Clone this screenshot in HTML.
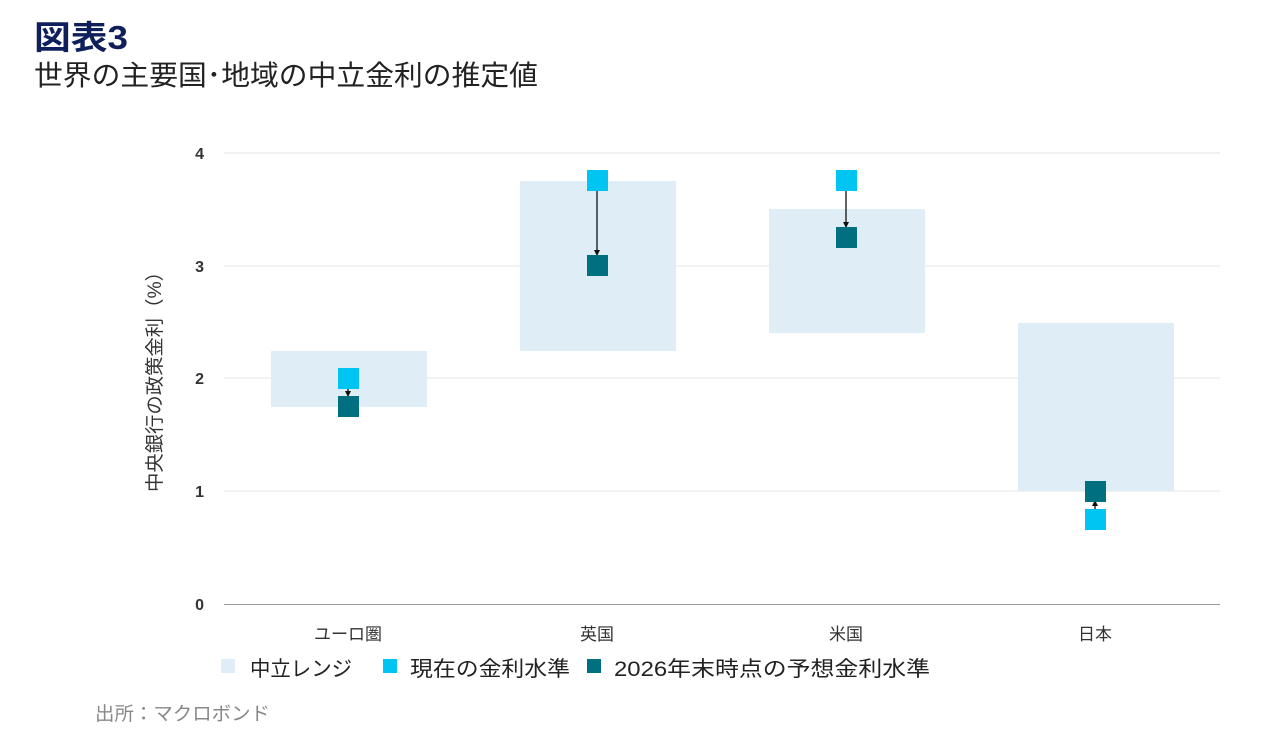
<!DOCTYPE html>
<html><head><meta charset="utf-8"><style>
body{margin:0;background:#fff;width:1280px;height:751px;overflow:hidden}
svg text{font-family:"Liberation Sans","Noto Sans CJK JP",sans-serif}
</style></head><body>
<svg width="1280" height="751" viewBox="0 0 1280 751">
<defs><marker id="ah" markerWidth="6" markerHeight="6" refX="5" refY="3" orient="auto" markerUnits="userSpaceOnUse"><path d="M0,0 L6,3 L0,6 Z" fill="#111"/></marker></defs>
<text x="34" y="49" font-size="33" font-weight="bold" fill="#0f1f5c" textLength="94" lengthAdjust="spacingAndGlyphs">図表3</text>
<text x="34" y="85" font-size="28" fill="#222" textLength="504" lengthAdjust="spacingAndGlyphs">世界の主要国･地域の中立金利の推定値</text>
<g stroke="#e4e6e8" stroke-width="1">
<line x1="224" y1="153" x2="1220" y2="153"/><line x1="224" y1="266" x2="1220" y2="266"/>
<line x1="224" y1="378" x2="1220" y2="378"/><line x1="224" y1="491" x2="1220" y2="491"/>
</g>
<line x1="224" y1="604.5" x2="1220" y2="604.5" stroke="#999" stroke-width="1"/>
<g font-size="16" font-weight="bold" fill="#333" text-anchor="end">
<text x="204" y="159">4</text><text x="204" y="272">3</text><text x="204" y="384">2</text><text x="204" y="497">1</text><text x="204" y="610">0</text>
</g>
<text transform="translate(161,377) rotate(-90)" font-size="19" fill="#333" text-anchor="middle" textLength="230" lengthAdjust="spacingAndGlyphs">中央銀行の政策金利（%）</text>
<g fill="#dfedf6">
<rect x="271" y="351" width="156" height="56"/>
<rect x="520" y="181" width="156" height="170"/>
<rect x="769" y="209" width="156" height="124"/>
<rect x="1018" y="323" width="156" height="168"/>
</g>
<g stroke="#111" stroke-width="1.3" marker-end="url(#ah)">
<line x1="348" y1="389" x2="348" y2="396"/>
<line x1="597" y1="191" x2="597" y2="255"/>
<line x1="846" y1="191" x2="846" y2="227"/>
<line x1="1095" y1="509" x2="1095" y2="501"/>
</g>
<g fill="#00c5f2">
<rect x="338" y="368" width="21" height="21"/>
<rect x="587" y="170" width="21" height="21"/>
<rect x="836" y="170" width="21" height="21"/>
<rect x="1085" y="509" width="21" height="21"/>
</g>
<g fill="#006f7f">
<rect x="338" y="396" width="21" height="21"/>
<rect x="587" y="255" width="21" height="21"/>
<rect x="836" y="227" width="21" height="21"/>
<rect x="1085" y="481" width="21" height="21"/>
</g>
<g font-size="17" fill="#333" text-anchor="middle">
<text x="348" y="640">ユーロ圏</text><text x="597" y="640">英国</text><text x="846" y="640">米国</text><text x="1095" y="640">日本</text>
</g>
<rect x="221" y="659" width="14" height="14" fill="#dfedf6"/>
<text x="250" y="676" font-size="21" fill="#222" textLength="102" lengthAdjust="spacingAndGlyphs">中立レンジ</text>
<rect x="383" y="659" width="14" height="14" fill="#00c5f2"/>
<text x="410" y="676" font-size="21" fill="#222" textLength="160" lengthAdjust="spacingAndGlyphs">現在の金利水準</text>
<rect x="587" y="659" width="14" height="14" fill="#006f7f"/>
<text x="614" y="676" font-size="21" fill="#222" textLength="316" lengthAdjust="spacingAndGlyphs">2026年末時点の予想金利水準</text>
<text x="95" y="720" font-size="19" fill="#888" textLength="175" lengthAdjust="spacingAndGlyphs">出所：マクロボンド</text>
</svg>
</body></html>
